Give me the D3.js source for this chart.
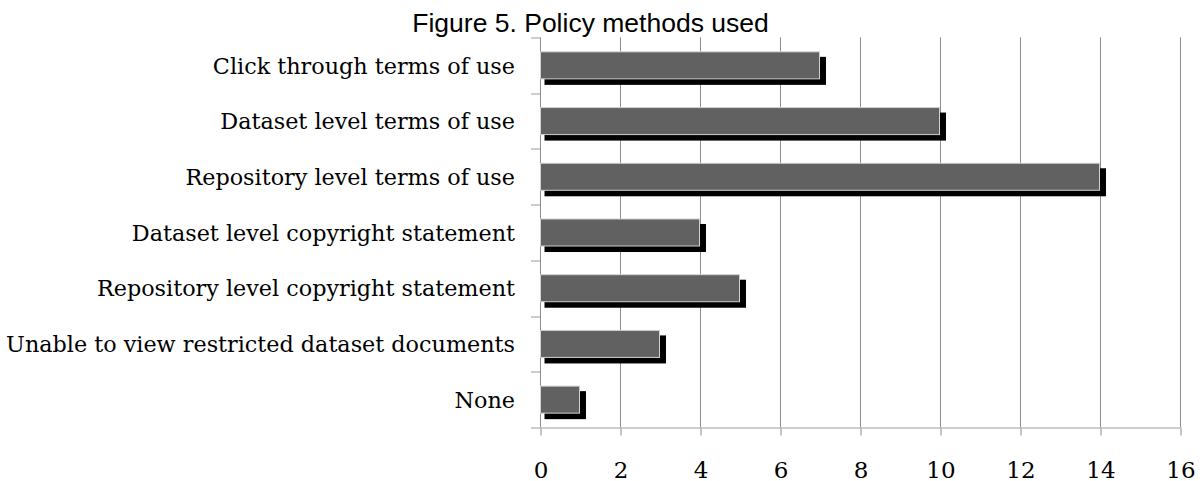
<!DOCTYPE html>
<html>
<head>
<meta charset="utf-8">
<script src="https://cdn.jsdelivr.net/npm/d3@7"></script>
<style>
  html, body { margin: 0; padding: 0; background: #fff; }
  svg { display: block; }
</style>
</head>
<body>
<svg id="chart" width="1204" height="481"></svg>
<script>
// Policy methods used, counts per method
const categories = [
  "Click through terms of use",
  "Dataset level terms of use",
  "Repository level terms of use",
  "Dataset level copyright statement",
  "Repository level copyright statement",
  "Unable to view restricted dataset documents",
  "None"
];
const counts = [7, 10, 14, 4, 5, 3, 1];
const xTicks = [0, 2, 4, 6, 8, 10, 12, 14, 16];
const title = "Figure 5. Policy methods used";

const svg = d3.select("#chart");
const W = 1204, H = 481;
const margin = { top: 37.5, right: 24, bottom: 53.5, left: 540 };
const plotW = W - margin.left - margin.right;
const plotH = H - margin.top - margin.bottom;

const x = d3.scaleLinear().domain([0, 16]).range([0, plotW]);
const y = d3.scaleBand().domain(categories).range([0, plotH])
  .paddingInner(0.515).paddingOuter(0.2575);

const g = svg.append("g").attr("transform", `translate(${margin.left},${margin.top})`);

// vertical gridlines
g.append("g").selectAll("line").data(xTicks).join("line")
  .attr("x1", d => Math.round(x(d)) + 0.5).attr("x2", d => Math.round(x(d)) + 0.5)
  .attr("y1", 0).attr("y2", plotH)
  .attr("stroke", "#8c8c8c").attr("stroke-width", 1);

// shadows behind bars
const bars = g.append("g");
bars.selectAll("rect.shadow").data(counts).join("rect")
  .attr("class", "shadow")
  .attr("x", 4.5)
  .attr("y", (d, i) => y(categories[i]) + 5)
  .attr("width", d => x(d) + 1.5)
  .attr("height", y.bandwidth() + 1)
  .attr("fill", "#000");

bars.selectAll("rect.bar").data(counts).join("rect")
  .attr("class", "bar")
  .attr("x", 0.5)
  .attr("y", (d, i) => y(categories[i]))
  .attr("width", d => x(d) - 1)
  .attr("height", y.bandwidth())
  .attr("fill", "#616161")
  .attr("stroke", "#d0d0d0")
  .attr("stroke-width", 1);

// bottom axis
const xAxis = d3.axisBottom(x).tickValues(xTicks).tickSize(8).tickFormat(d3.format("d"));
const xg = g.append("g").attr("transform", `translate(0.5,${plotH})`).call(xAxis);
xg.select(".domain").remove();
xg.selectAll(".tick line").attr("stroke", "#8c8c8c");
xg.selectAll(".tick text")
  .attr("dy", null).attr("y", 50)
  .attr("font-family", "'DejaVu Serif', serif").attr("font-size", 23).attr("fill", "#000");
g.append("line")
  .attr("x1", -9).attr("x2", plotW + 1).attr("y1", plotH + 0.5).attr("y2", plotH + 0.5)
  .attr("stroke", "#bdbdbd").attr("stroke-width", 1.5);

// left axis: ticks on band boundaries
const yTickPos = d3.range(categories.length).map(i => i * y.step());
g.append("g").selectAll("line").data(yTickPos).join("line")
  .attr("x1", -9).attr("x2", 0).attr("y1", d => Math.round(d) + 0.5).attr("y2", d => Math.round(d) + 0.5)
  .attr("stroke", "#bdbdbd").attr("stroke-width", 1.5);

// category labels
g.append("g").selectAll("text").data(categories).join("text")
  .attr("x", -25)
  .attr("y", d => y(d) + y.bandwidth() / 2)
  .attr("dy", "0.37em")
  .attr("text-anchor", "end")
  .attr("font-family", "'DejaVu Serif', serif")
  .attr("font-size", 22.3)
  .attr("fill", "#000")
  .text(d => d);

// title
svg.append("text")
  .attr("x", 590.5).attr("y", 32)
  .attr("text-anchor", "middle")
  .attr("font-family", "'Liberation Sans', Arial, sans-serif")
  .attr("font-size", 26.5)
  .attr("fill", "#000")
  .text(title);
</script>
</body>
</html>
